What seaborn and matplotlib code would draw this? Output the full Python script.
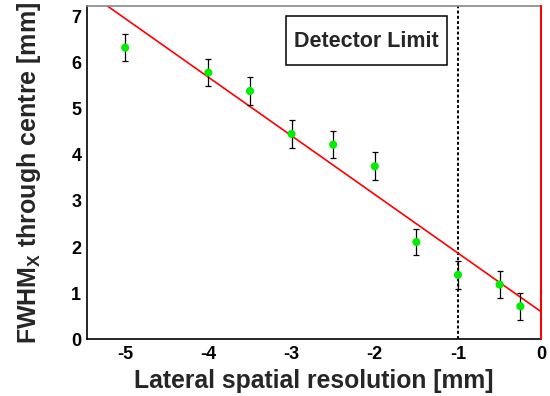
import numpy as np
import pandas as pd
import matplotlib
matplotlib.use("Agg")
import matplotlib.pyplot as plt
import seaborn as sns
from matplotlib.ticker import MultipleLocator
from matplotlib.patches import Rectangle

# data
resolution = [-5.0, -4.0, -3.5, -3.0, -2.5, -2.0, -1.5, -1.0, -0.5, -0.25]
fwhm = [6.32, 5.78, 5.38, 4.45, 4.22, 3.75, 2.11, 1.40, 1.19, 0.72]
fwhm_err = [0.30, 0.30, 0.31, 0.31, 0.30, 0.30, 0.29, 0.30, 0.30, 0.29]
fit_slope = -1.27
fit_intercept = 0.60
detector_limit = -1.0
x_range = [-5.46, 0.0]
y_range = [0.0, 7.22]

df = pd.DataFrame({"x": resolution, "y": fwhm, "err": fwhm_err})

sns.set_style("white")
plt.rcParams["font.family"] = ["Liberation Sans", "DejaVu Sans"]
plt.rcParams["font.weight"] = "bold"
plt.rcParams["mathtext.fontset"] = "custom"
plt.rcParams["mathtext.rm"] = "Liberation Sans:bold"
plt.rcParams["mathtext.bf"] = "Liberation Sans:bold"

fig = plt.figure(figsize=(5.5, 3.96), dpi=100)
ax = fig.add_axes([0.158, 0.1427, 0.826, 0.842])

# fit line across the axis range
fx = np.array(x_range)
fit_df = pd.DataFrame({"x": fx, "y": fit_intercept + fit_slope * fx})
sns.lineplot(data=fit_df, x="x", y="y", color="red", linewidth=1.2, ax=ax, zorder=2)

# error bars
ax.errorbar(df["x"], df["y"], yerr=df["err"], fmt="none", ecolor="black",
            elinewidth=0.9, capsize=2.5, capthick=0.9, zorder=3)
sns.scatterplot(data=df, x="x", y="y", color="#00ee00", s=34, edgecolor="none",
                ax=ax, zorder=4)

# detector limit and zero line
ax.axvline(detector_limit, color="black", linestyle=(0, (1.5, 1.2)), linewidth=1.4, zorder=1)
ax.axvline(0.0, color="red", linewidth=1.5, zorder=5, clip_on=False)

ax.add_patch(Rectangle((0.438, 0.823), 0.355, 0.147, transform=ax.transAxes,
                       facecolor="white", edgecolor="black", linewidth=1.1, zorder=6))
ax.text(0.6155, 0.895, "Detector Limit", transform=ax.transAxes, fontsize=15.5,
        fontweight="bold", ha="center", va="center", zorder=7)

ax.set_xlim(*x_range)
ax.set_ylim(*y_range)
ax.xaxis.set_major_locator(MultipleLocator(1))
ax.xaxis.set_minor_locator(MultipleLocator(0.2))
ax.yaxis.set_major_locator(MultipleLocator(1))
ax.yaxis.set_minor_locator(MultipleLocator(0.2))
ax.set_xticks([-5, -4, -3, -2, -1, 0])
ax.set_xticklabels(["-5", "-4", "-3", "-2", "-1", "0"])
ax.tick_params(axis="both", which="both", direction="in", top=False, right=False,
               colors="#555555", labelcolor="black", labelsize=13)
ax.tick_params(axis="x", which="major", length=10, width=1, pad=5)
ax.tick_params(axis="x", which="minor", length=5, width=1)
ax.tick_params(axis="y", which="major", length=9, width=1, pad=4)
ax.tick_params(axis="y", which="minor", length=4.5, width=1)
for lab in ax.get_xticklabels() + ax.get_yticklabels():
    lab.set_fontweight("bold")

ax.spines["left"].set_color("black")
ax.spines["bottom"].set_color("black")
ax.spines["top"].set_color("#888888")
ax.spines["right"].set_color("#888888")
for s in ax.spines.values():
    s.set_linewidth(1.2)

ax.set_xlabel("Lateral spatial resolution [mm]", fontsize=17.8, fontweight="bold", labelpad=4)
ax.set_ylabel(r"FWHM$_\mathrm{X}$ through centre [mm]", fontsize=18, fontweight="bold", labelpad=20)

fig.savefig("out.png", dpi=100)
